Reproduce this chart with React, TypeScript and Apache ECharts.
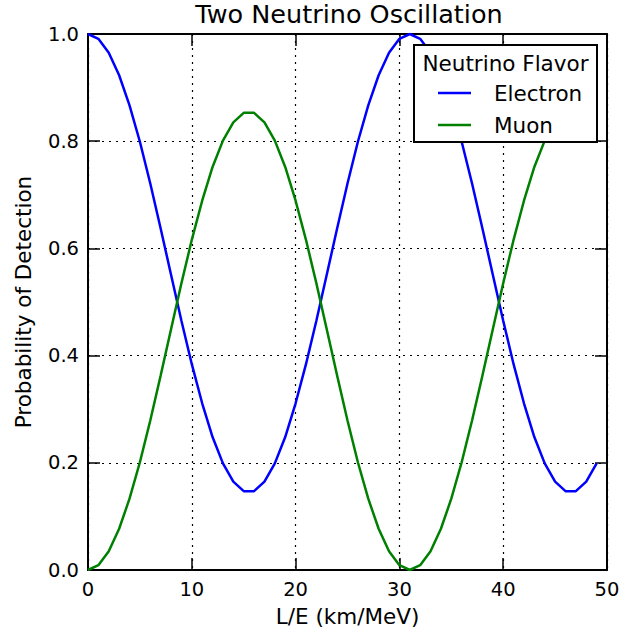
import React, { useEffect, useRef } from "react";
import * as echarts from "echarts";

const lengthOverEnergy = [
  0, 1, 2, 3, 4, 5, 6, 7, 8, 9, 10, 11, 12, 13, 14, 15, 16, 17, 18, 19, 20, 21, 22, 23, 24,
  25, 26, 27, 28, 29, 30, 31, 32, 33, 34, 35, 36, 37, 38, 39, 40, 41, 42, 43, 44, 45, 46, 47, 48, 49,
];

const electronProb = [
  1.0, 0.991, 0.965, 0.923, 0.867, 0.799, 0.721, 0.637, 0.551, 0.465, 0.384, 0.311, 0.248,
  0.199, 0.165, 0.147, 0.147, 0.165, 0.199, 0.248, 0.311, 0.384, 0.465, 0.551, 0.637,
  0.721, 0.799, 0.867, 0.923, 0.965, 0.991, 1.0, 0.991, 0.965, 0.923, 0.867, 0.799, 0.721,
  0.637, 0.551, 0.465, 0.384, 0.311, 0.248, 0.199, 0.165, 0.147, 0.147, 0.165, 0.199,
];

const muonProb = [
  0.0, 0.009, 0.035, 0.077, 0.133, 0.201, 0.279, 0.363, 0.449, 0.535, 0.616, 0.689, 0.752,
  0.801, 0.835, 0.853, 0.853, 0.835, 0.801, 0.752, 0.689, 0.616, 0.535, 0.449, 0.363,
  0.279, 0.201, 0.133, 0.077, 0.035, 0.009, 0.0, 0.009, 0.035, 0.077, 0.133, 0.201, 0.279,
  0.363, 0.449, 0.535, 0.616, 0.689, 0.752, 0.801, 0.835, 0.853, 0.853, 0.835, 0.801,
];

const xTicks = { min: 0, max: 50, interval: 10 };
const yTicks = { min: 0, max: 1, interval: 0.2 };

const FONT = "DejaVu Sans";

export default function App() {
  const ref = useRef<HTMLDivElement>(null);

  useEffect(() => {
    document.body.style.margin = "0";
    if (!ref.current) return;
    const chart = echarts.init(ref.current, undefined, { renderer: "svg" });
    const tickStyle = { show: true, inside: true, length: 12, lineStyle: { color: "#000", width: 1.5 } };
    const axisLine = { show: true, onZero: false, lineStyle: { color: "#000", width: 2 } };
    const gridLine = { show: true, lineStyle: { color: "#000", width: 1.2, type: [2, 5] as any } };
    chart.setOption({
      animation: false,
      backgroundColor: "#fff",
      textStyle: { fontFamily: FONT },
      title: {
        text: "Two Neutrino Oscillation",
        left: 349,
        top: 1,
        padding: 0,
        textAlign: "center",
        textStyle: { fontFamily: FONT, fontSize: 25.5, lineHeight: 26, fontWeight: "normal", color: "#000" },
      },
      grid: { left: 88, right: 31, top: 34, bottom: 64 },
      xAxis: [
        {
          type: "value",
          ...xTicks,
          name: "L/E (km/MeV)",
          nameLocation: "middle",
          nameGap: 35,
          nameTextStyle: { fontFamily: FONT, fontSize: 21.5, color: "#000" },
          axisLine,
          axisTick: tickStyle,
          axisLabel: { fontFamily: FONT, fontSize: 19.5, color: "#000", margin: 9 },
          splitLine: gridLine,
        },
        {
          type: "value",
          ...xTicks,
          position: "top",
          axisLine,
          axisTick: tickStyle,
          axisLabel: { show: false },
          splitLine: { show: false },
        },
      ],
      yAxis: [
        {
          type: "value",
          ...yTicks,
          name: "Probability of Detection",
          nameLocation: "middle",
          nameGap: 54,
          nameTextStyle: { fontFamily: FONT, fontSize: 21.5, color: "#000" },
          axisLine,
          axisTick: tickStyle,
          axisLabel: {
            fontFamily: FONT,
            fontSize: 19.5,
            color: "#000",
            margin: 9,
            formatter: (v: number) => v.toFixed(1),
          },
          splitLine: gridLine,
        },
        {
          type: "value",
          ...yTicks,
          position: "right",
          axisLine,
          axisTick: tickStyle,
          axisLabel: { show: false },
          splitLine: { show: false },
        },
      ],
      legend: {
        orient: "vertical",
        left: 438,
        top: 82,
        padding: 0,
        icon: "rect",
        itemWidth: 33,
        itemHeight: 2.5,
        itemGap: 10,
        selectedMode: false,
        z: 6,
        textStyle: { fontFamily: FONT, fontSize: 21.5, color: "#000", padding: [0, 0, 0, 18] },
        data: ["Electron", "Muon"],
      },
      graphic: [
        {
          type: "rect",
          z: 5,
          shape: { x: 414, y: 45, width: 183, height: 97 },
          style: { fill: "#fff", stroke: "#000", lineWidth: 2 },
        },
        {
          type: "text",
          z: 7,
          x: 505.5,
          y: 63,
          style: {
            text: "Neutrino Flavor",
            fontFamily: FONT,
            fontSize: 21.5,
            fill: "#000",
            align: "center",
            verticalAlign: "middle",
          },
        },
      ],
      series: [
        {
          name: "Electron",
          type: "line",
          symbol: "none",
          lineStyle: { color: "#0000ff", width: 2.5 },
          itemStyle: { color: "#0000ff" },
          data: lengthOverEnergy.map((x, i) => [x, electronProb[i]]),
        },
        {
          name: "Muon",
          type: "line",
          symbol: "none",
          lineStyle: { color: "#008000", width: 2.5 },
          itemStyle: { color: "#008000" },
          data: lengthOverEnergy.map((x, i) => [x, muonProb[i]]),
        },
      ],
    });
    return () => chart.dispose();
  }, []);

  return <div ref={ref} style={{ width: 638, height: 634 }} />;
}
